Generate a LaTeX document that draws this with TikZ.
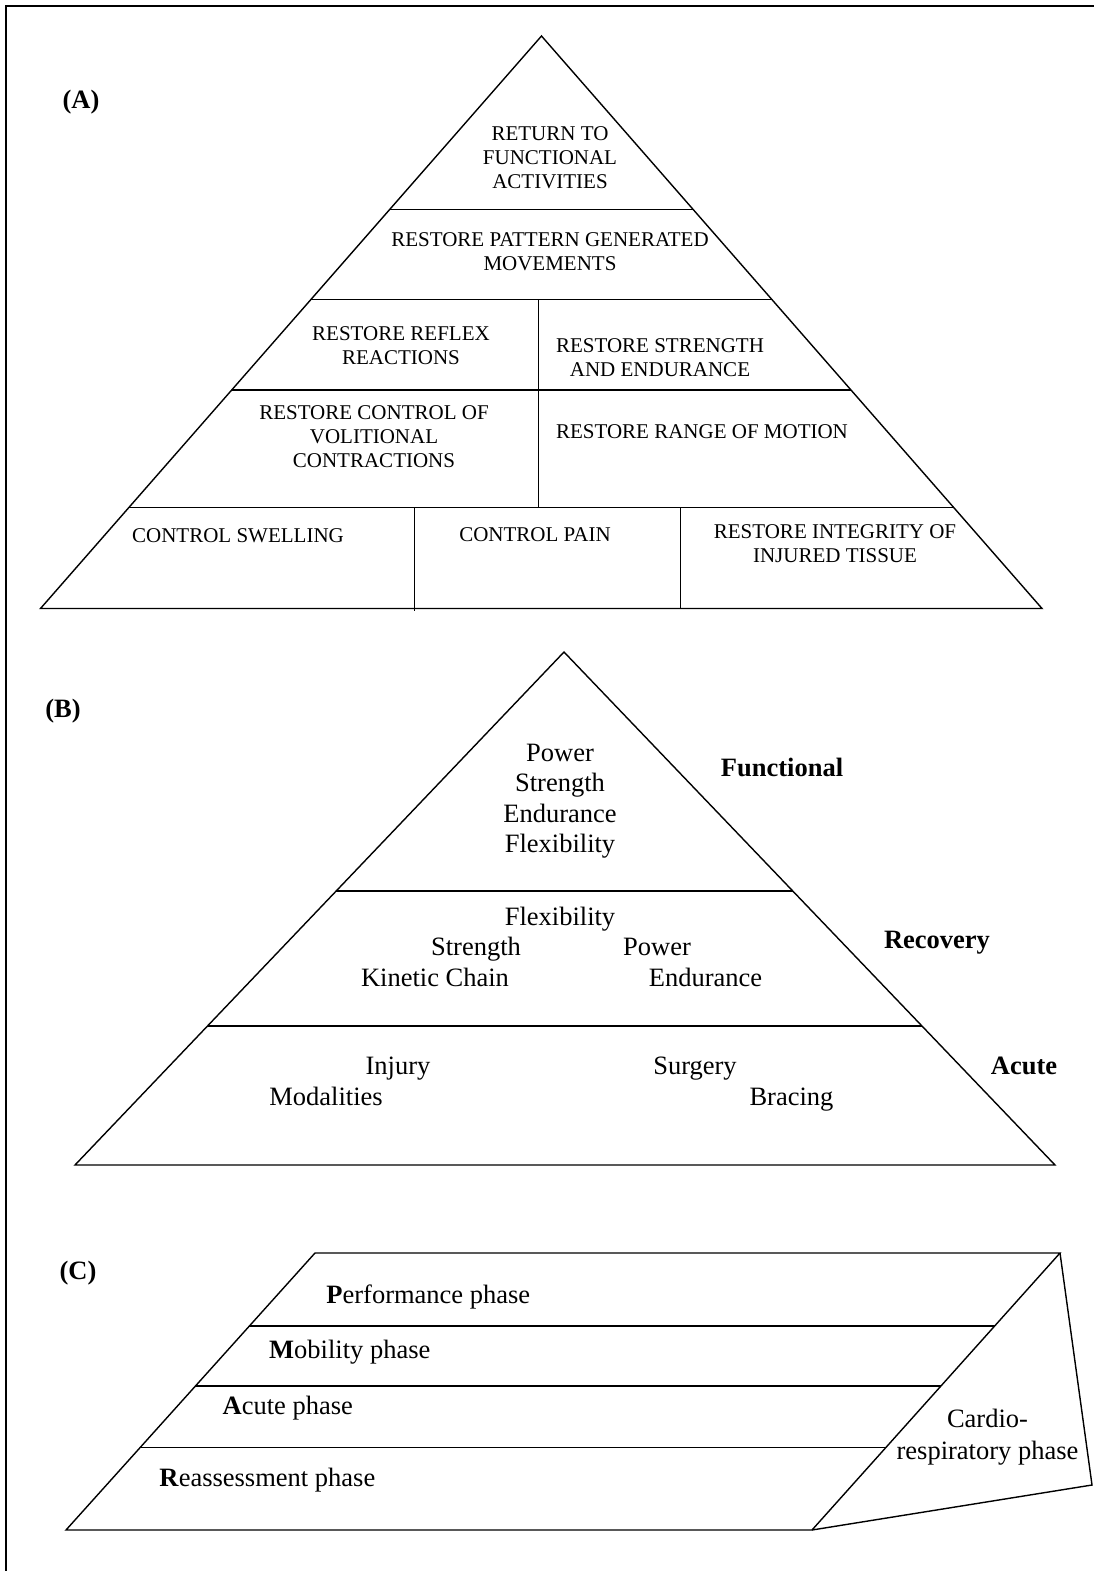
\documentclass[tikz,border=0pt]{standalone}
\usepackage{fontspec}
\setmainfont{Liberation Serif}
\begin{document}
\begin{tikzpicture}[x=1pt,y=-1pt,line width=1.4pt,
  every node/.style={inner sep=0pt},
  lbl/.style={font=\fontsize{26.5}{30.5}\selectfont\bfseries},
  capA/.style={font=\fontsize{21}{24}\selectfont,align=center},
  txtB/.style={font=\fontsize{26.5}{30.5}\selectfont,align=center},
  one/.style={font=\fontsize{26.5}{30.5}\selectfont,text height=18pt,text depth=6pt}]
  \useasboundingbox (0,0) rectangle (1094,1571);
  \draw[line width=1.8pt] (6,1571) -- (6,6) -- (1094,6);
  \begin{scope}
    \coordinate (topA) at (541.5,36); \coordinate (blA) at (40.5,608.5); \coordinate (brA) at (1042,608.5);
    \draw (topA) -- (blA) -- (brA) -- cycle;
    \draw (389.7,209.5) -- (693.2,209.5);
    \draw (310.9,299.5) -- (771.8,299.5);
    \draw (231.7,390) -- (851,390);
    \draw (128.9,507.5) -- (953.7,507.5);
    \draw (538.5,299.5) -- (538.5,507.5);
    \draw (414.5,507.5) -- (414.5,611);
    \draw (680.5,507.5) -- (680.5,608.5);
    \node[lbl] (labA) at (81,102) {(A)};
    \node[capA] (ret) at (550,158) {RETURN TO\\FUNCTIONAL\\ACTIVITIES};
    \node[capA] (patt) at (550,252) {RESTORE PATTERN GENERATED\\MOVEMENTS};
    \node[capA] (refl) at (401,346) {RESTORE REFLEX\\REACTIONS};
    \node[capA] (stren) at (660,358) {RESTORE STRENGTH\\AND ENDURANCE};
    \node[capA] (volit) at (374,437) {RESTORE CONTROL OF\\VOLITIONAL\\CONTRACTIONS};
    \node[capA] (rom) at (702,432) {RESTORE RANGE OF MOTION};
    \node[capA] (swell) at (238,536) {CONTROL SWELLING};
    \node[capA] (pain) at (535,535) {CONTROL PAIN};
    \node[capA] (integ) at (835,544) {RESTORE INTEGRITY OF\\INJURED TISSUE};
  \end{scope}
  \begin{scope}
    \coordinate (topB) at (564,652); \coordinate (blB) at (75,1165); \coordinate (brB) at (1055,1165);
    \draw (topB) -- (blB) -- (brB) -- cycle;
    \draw (336.2,891) -- (792.7,891);
    \draw (207.5,1026) -- (922,1026);
    \node[lbl] (labB) at (63,711) {(B)};
    \node[txtB] (func) at (560,801) {Power\\Strength\\Endurance\\Flexibility};
    \node[lbl] (funcl) at (782,767.5) {Functional};
    \node[one] (flex) at (560,919) {Flexibility};
    \node[one] (str) at (476,949) {Strength};
    \node[one] (pow) at (657,949) {Power};
    \node[one] (kin) at (435,980.6) {Kinetic Chain};
    \node[one] (endu) at (705.5,980.6) {Endurance};
    \node[lbl] (recl) at (937,942.5) {Recovery};
    \node[one] (inj) at (398,1068) {Injury};
    \node[one] (moda) at (326,1099) {Modalities};
    \node[one] (surg) at (695,1068) {Surgery};
    \node[one] (brac) at (791.5,1099) {Bracing};
    \node[lbl] (acul) at (1024,1065.5) {Acute};
  \end{scope}
  \begin{scope}
    \coordinate (tlC) at (315,1253); \coordinate (trC) at (1060,1253);
    \coordinate (brC) at (812,1530); \coordinate (blC) at (66,1530);
    \coordinate (flap) at (1092,1485);
    \draw (tlC) -- (trC) -- (brC) -- (blC) -- cycle;
    \draw (trC) -- (flap) -- (brC);
    \draw (249.4,1326) -- (994.6,1326);
    \draw (195.4,1386) -- (940.9,1386);
    \draw (140.1,1447.6) -- (885.8,1447.6);
    \node[lbl] (labC) at (78,1273) {(C)};
    \node[one,anchor=west] (perf) at (325.7,1297) {\textbf{P}erformance phase};
    \node[one,anchor=west] (mob) at (268.5,1352.7) {\textbf{M}obility phase};
    \node[one,anchor=west] (acp) at (222,1408) {\textbf{A}cute phase};
    \node[one,anchor=west] (reas) at (158.7,1480) {\textbf{R}eassessment phase};
    \node[txtB,font=\fontsize{26.5}{32}\selectfont] (cardio) at (987.5,1437) {Cardio-\\respiratory phase};
  \end{scope}
\end{tikzpicture}
\end{document}
